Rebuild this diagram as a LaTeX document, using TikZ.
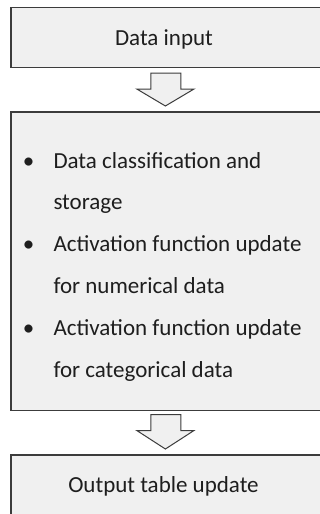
\documentclass[tikz,border=0pt]{standalone}
\usepackage{fontspec}
\setmainfont{Carlito}
\definecolor{boxfill}{HTML}{F0F0F0}
\definecolor{boxline}{HTML}{3C3C3C}
\definecolor{txt}{HTML}{1E1E1E}
\begin{document}
\begin{tikzpicture}[x=1pt,y=-1pt,
  panel/.style={draw=boxline,line width=1.4pt,fill=boxfill},
  blockarrow/.style={draw=boxline,line width=1pt,fill=boxfill,line join=miter},
  lbl/.style={inner sep=0pt,anchor=base west,text=txt,font=\fontsize{23}{27}\selectfont},
  clbl/.style={inner sep=0pt,anchor=base,text=txt,font=\fontsize{23}{27}\selectfont}]
\useasboundingbox[fill=white] (0,0) rectangle (320,514);
% boxes
\path[panel] (11,7.5) rectangle (324,67.7);
\path[panel] (11,112) rectangle (324,410.5);
\path[panel] (11,455) rectangle (324,520);
% block arrows
\path[blockarrow] (150.8,73) -- (180.8,73) -- (180.8,89) -- (194,89) -- (165.4,106) -- (136.8,89) -- (150.8,89) -- cycle;
\path[blockarrow] (150.8,414.5) -- (180.8,414.5) -- (180.8,430.5) -- (194,430.5) -- (165.4,449) -- (136.8,430.5) -- (150.8,430.5) -- cycle;
% texts
\node[clbl] (t1) at (164,45) {Data input};
\node[clbl] (b1) at (28.5,168.3) {\textbullet};
\node[lbl] (l1) at (53.3,168.3) {Data classification and};
\node[lbl] (l2) at (53.3,209) {storage};
\node[clbl] (b2) at (28.5,251.7) {\textbullet};
\node[lbl] (l3) at (53.3,251.7) {Activation function update};
\node[lbl] (l4) at (53.3,293) {for numerical data};
\node[clbl] (b3) at (28.5,335) {\textbullet};
\node[lbl] (l5) at (53.3,335) {Activation function update};
\node[lbl] (l6) at (53.3,377.3) {for categorical data};
\node[clbl] (t3) at (163.5,492.7) {Output table update};
\end{tikzpicture}
\end{document}
